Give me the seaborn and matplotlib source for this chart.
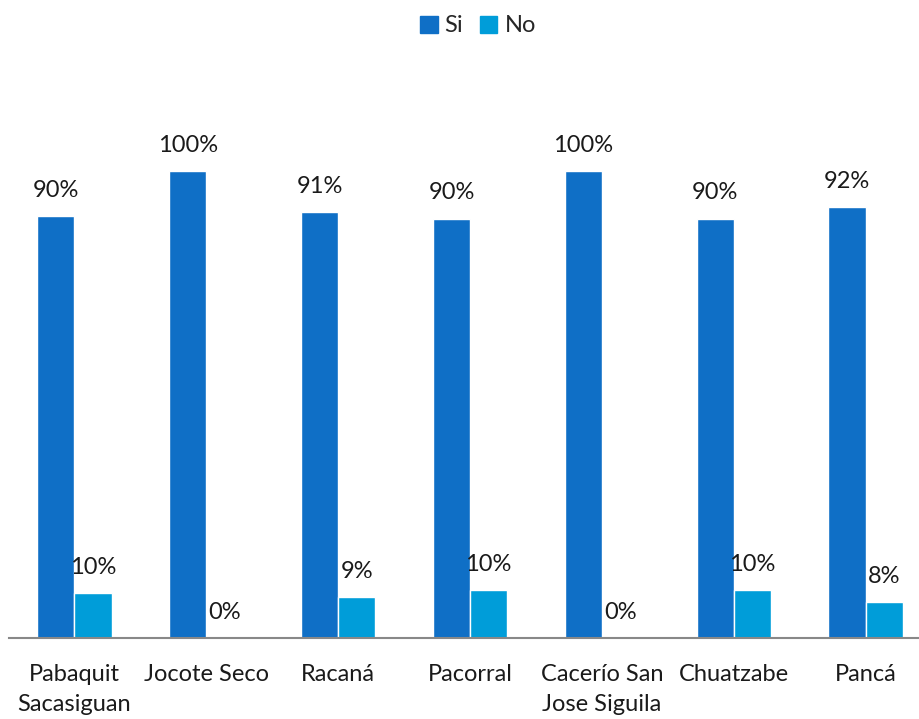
import matplotlib
matplotlib.use("Agg")
import matplotlib.pyplot as plt
import seaborn as sns
import pandas as pd

communities = ["Pabaquit\nSacasiguan", "Jocote Seco", "Racaná", "Pacorral",
               "Cacerío San\nJose Siguila", "Chuatzabe", "Pancá"]
si_values = [0.904, 1.0, 0.912, 0.898, 1.0, 0.898, 0.923]
no_values = [0.096, 0.0, 0.088, 0.102, 0.0, 0.102, 0.077]
series = ["Si", "No"]
colors = ["#0F6FC6", "#009DD9"]

df = pd.DataFrame({
    "comunidad": communities * 2,
    "respuesta": ["Si"] * len(communities) + ["No"] * len(communities),
    "valor": si_values + no_values,
})

sns.set_theme(style="white")
plt.rcParams["font.family"] = ["Lato", "DejaVu Sans"]

fig = plt.figure(figsize=(9.19, 7.19), dpi=100)
ax = fig.add_axes([0.00925, 0.1127, 1.0045, 0.7793])

sns.barplot(data=df, x="comunidad", y="valor", hue="respuesta",
            hue_order=series, palette=colors, order=communities,
            width=0.565, gap=0, errorbar=None, ax=ax, legend=False,
            saturation=1)

for cont in ax.containers:
    ax.bar_label(cont, labels=[f"{v*100:.0f}%" for v in cont.datavalues],
                 padding=11, fontsize=17, color="#1a1a1a")

ax.set_ylim(0, 1.2)
ax.set_xlim(-0.5, len(communities) - 0.5)
ax.set_xlabel("")
ax.set_ylabel("")
ax.set_yticks([])
ax.tick_params(axis="x", length=0, pad=19, labelsize=17, labelcolor="#1a1a1a")
for lbl in ax.get_xticklabels():
    lbl.set_linespacing(1.5)
for s in ["top", "right", "left"]:
    ax.spines[s].set_visible(False)
ax.spines["bottom"].set_color("#888888")
ax.spines["bottom"].set_linewidth(1.5)

handles = [plt.Rectangle((0, 0), 1, 1, color=c) for c in colors]
fig.legend(handles, series, loc="center", bbox_to_anchor=(0.52, 0.964),
           ncol=2, frameon=False, fontsize=17, handlelength=0.75,
           handleheight=0.75, handletextpad=0.3, columnspacing=0.7)

fig.savefig("out.png", dpi=100)
